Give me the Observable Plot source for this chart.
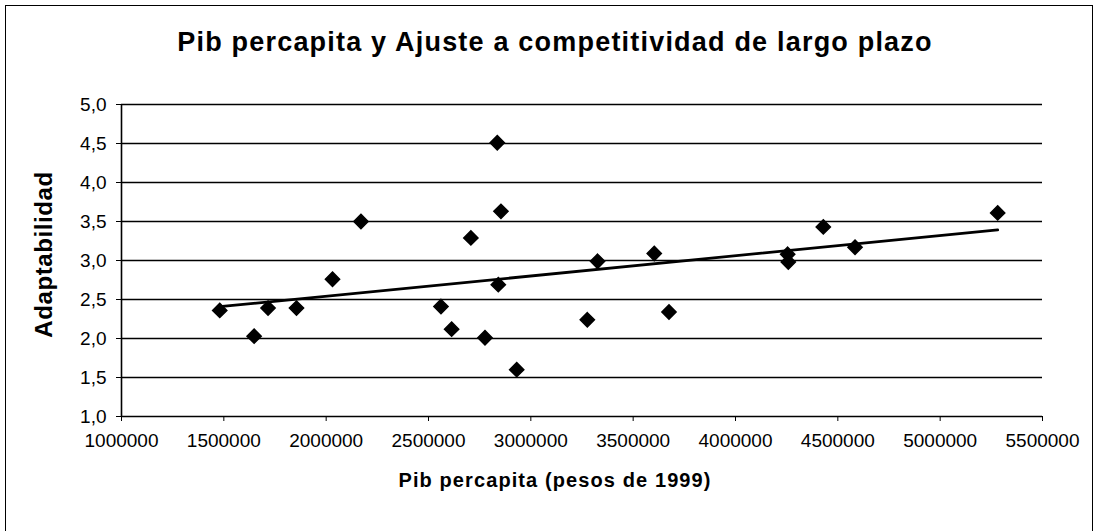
<!DOCTYPE html>
<html>
<head>
<meta charset="utf-8">
<script src="https://cdn.jsdelivr.net/npm/d3@7"></script>
<script src="https://cdn.jsdelivr.net/npm/@observablehq/plot@0.6"></script>
<style>
  html, body { margin: 0; padding: 0; background: #fff; }
  body { width: 1098px; height: 531px; overflow: hidden; position: relative; font-family: "Liberation Sans", Arial, sans-serif; }
  #frame { position: absolute; left: 5px; top: 5px; width: 1088px; height: 540px; border: 1px solid #000; box-sizing: border-box; z-index: 2; pointer-events: none; }
  #title { position: absolute; left: 6px; top: 29px; width: 1098px; text-align: center; font-weight: bold; font-size: 27px; line-height: 27px; letter-spacing: 1.2px; color: #000; }
  #chart { position: absolute; left: 0; top: 80px; z-index: 1; }
</style>
</head>
<body>
<div id="title">Pib percapita y Ajuste a competitividad de largo plazo</div>
<div id="chart"></div>
<div id="frame"></div>
<script>
const pib = [1480000,1648000,1716000,1855000,2031000,2170000,2561000,2613000,2707000,2776000,2836000,2854000,2841000,2931000,3276000,3326000,3603000,3675000,4255000,4258000,4429000,4584000,5281000];
const adapt = [2.36,2.03,2.39,2.39,2.76,3.50,2.41,2.12,3.29,2.01,4.51,3.63,2.69,1.60,2.24,2.99,3.09,2.34,3.08,2.98,3.43,3.17,3.61];
const xTicks = [1000000,1500000,2000000,2500000,3000000,3500000,4000000,4500000,5000000,5500000];
const yTicks = [1.0,1.5,2.0,2.5,3.0,3.5,4.0,4.5,5.0];
const xLabel = "Pib percapita (pesos de 1999)";
const yLabel = "Adaptabilidad";

const data = pib.map((x, i) => ({x, y: adapt[i]}));
const fmtX = d => String(d);
const fmtY = d => d.toFixed(1).replace(".", ",");

const chart = Plot.plot({
  width: 1098,
  height: 436,
  marginLeft: 121,
  marginRight: 56,
  marginTop: 24,
  marginBottom: 100,
  style: {fontFamily: "'Liberation Sans', Arial, sans-serif", fontSize: "19px", color: "#000", background: "transparent"},
  x: {domain: [1000000, 5500000], ticks: xTicks, tickFormat: fmtX},
  y: {domain: [1, 5], ticks: yTicks, tickFormat: fmtY},
  marks: [
    Plot.ruleY(yTicks, {stroke: "#000", strokeWidth: 1.3}),
    Plot.ruleX([1000000], {stroke: "#000", strokeWidth: 1.6}),
    Plot.axisX({ticks: xTicks, tickFormat: fmtX, tickSize: 5, tickPadding: 12, fontSize: 19, label: null, stroke: "#000"}),
    Plot.axisY({ticks: yTicks, tickFormat: fmtY, tickSize: 5, tickPadding: 10, fontSize: 19, label: null, stroke: "#000"}),
    Plot.text([xLabel], {frameAnchor: "bottom", dx: -27, dy: 70, text: d => d, fontWeight: "bold", fontSize: 20}),
    Plot.text([yLabel], {frameAnchor: "left", textAnchor: "middle", dx: -77, dy: -6, rotate: -90, text: d => d, fontWeight: "bold", fontSize: 24}),
    Plot.linearRegressionY(data, {x: "x", y: "y", stroke: "#000", strokeWidth: 2.8, ci: 0}),
    Plot.dot(data, {x: "x", y: "y", symbol: "diamond2", r: 6.4, fill: "#000", stroke: "#000"})
  ]
});
chart.querySelectorAll("text").forEach(t => {
  if (t.textContent === xLabel) t.setAttribute("letter-spacing", "1.1");
  if (t.textContent === yLabel) t.setAttribute("letter-spacing", "0.6");
});
document.getElementById("chart").appendChild(chart);
</script>
</body>
</html>
